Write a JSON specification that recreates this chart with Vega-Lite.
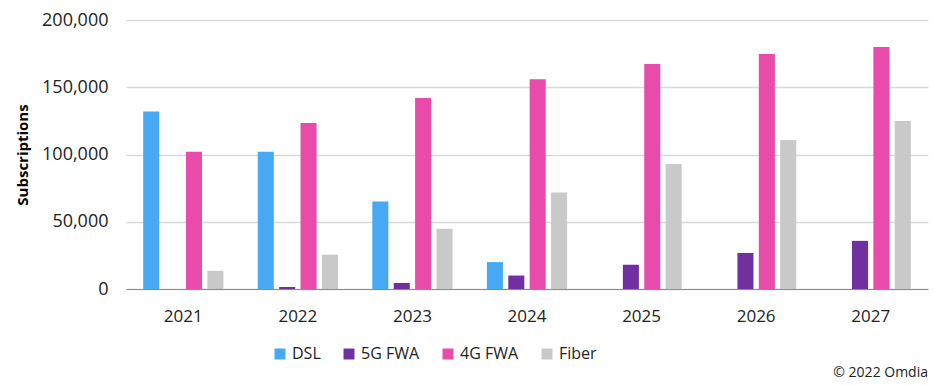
{
  "$schema": "https://vega.github.io/schema/vega-lite/v6.json",
  "width": 802,
  "height": 269,
  "autosize": {"type": "pad"},
  "padding": {"left": 15, "top": 11, "right": 2, "bottom": 4},
  "background": "white",
  "config": {
    "font": "Open Sans",
    "view": {"stroke": null}
  },
  "title": {
    "text": "© 2022 Omdia",
    "orient": "bottom",
    "anchor": "end",
    "fontSize": 14,
    "fontWeight": "normal",
    "color": "#222222",
    "offset": 4
  },
  "data": {
    "values": [
      {"year": "2021", "type": "DSL", "value": 132000},
      {"year": "2021", "type": "5G FWA", "value": 0},
      {"year": "2021", "type": "4G FWA", "value": 102000},
      {"year": "2021", "type": "Fiber", "value": 13500},
      {"year": "2022", "type": "DSL", "value": 102000},
      {"year": "2022", "type": "5G FWA", "value": 1500},
      {"year": "2022", "type": "4G FWA", "value": 123500},
      {"year": "2022", "type": "Fiber", "value": 25500},
      {"year": "2023", "type": "DSL", "value": 65000},
      {"year": "2023", "type": "5G FWA", "value": 4500},
      {"year": "2023", "type": "4G FWA", "value": 142000},
      {"year": "2023", "type": "Fiber", "value": 44800},
      {"year": "2024", "type": "DSL", "value": 20000},
      {"year": "2024", "type": "5G FWA", "value": 10000},
      {"year": "2024", "type": "4G FWA", "value": 156000},
      {"year": "2024", "type": "Fiber", "value": 71800},
      {"year": "2025", "type": "DSL", "value": 0},
      {"year": "2025", "type": "5G FWA", "value": 18000},
      {"year": "2025", "type": "4G FWA", "value": 167300},
      {"year": "2025", "type": "Fiber", "value": 93000},
      {"year": "2026", "type": "DSL", "value": 0},
      {"year": "2026", "type": "5G FWA", "value": 26800},
      {"year": "2026", "type": "4G FWA", "value": 174700},
      {"year": "2026", "type": "Fiber", "value": 110800},
      {"year": "2027", "type": "DSL", "value": 0},
      {"year": "2027", "type": "5G FWA", "value": 35800},
      {"year": "2027", "type": "4G FWA", "value": 180000},
      {"year": "2027", "type": "Fiber", "value": 125000}
    ]
  },
  "mark": {"type": "bar"},
  "encoding": {
    "x": {
      "field": "year",
      "type": "nominal",
      "title": null,
      "scale": {"paddingInner": 0.3, "paddingOuter": 0.15},
      "axis": {
        "labelAngle": 0,
        "labelFontSize": 17,
        "labelColor": "#222222",
        "labelPadding": 19,
        "ticks": false,
        "domainColor": "#8c8c8c",
        "grid": false
      }
    },
    "xOffset": {
      "field": "type",
      "type": "nominal",
      "sort": ["DSL", "5G FWA", "4G FWA", "Fiber"],
      "scale": {"paddingInner": 0.25}
    },
    "y": {
      "field": "value",
      "type": "quantitative",
      "title": "Subscriptions",
      "scale": {"domain": [0, 200000]},
      "axis": {
        "values": [0, 50000, 100000, 150000, 200000],
        "format": ",d",
        "labelFontSize": 18,
        "labelColor": "#222222",
        "labelPadding": 18,
        "ticks": false,
        "domain": false,
        "gridColor": "#d9d9d9",
        "gridWidth": 1.5,
        "titleFontSize": 15,
        "titleFontWeight": "bold",
        "titleColor": "#000000",
        "titlePadding": 11
      }
    },
    "color": {
      "field": "type",
      "type": "nominal",
      "sort": ["DSL", "5G FWA", "4G FWA", "Fiber"],
      "scale": {
        "domain": ["DSL", "5G FWA", "4G FWA", "Fiber"],
        "range": ["#47a9f3", "#7030a0", "#e84ba9", "#c9c9c9"]
      },
      "legend": {
        "title": null,
        "orient": "none",
        "legendX": 146,
        "legendY": 326,
        "direction": "horizontal",
        "symbolType": "square",
        "symbolSize": 120,
        "symbolStrokeWidth": 0,
        "labelFontSize": 16,
        "labelColor": "#222222",
        "columnPadding": 20,
        "labelOffset": 4
      }
    }
  }
}
